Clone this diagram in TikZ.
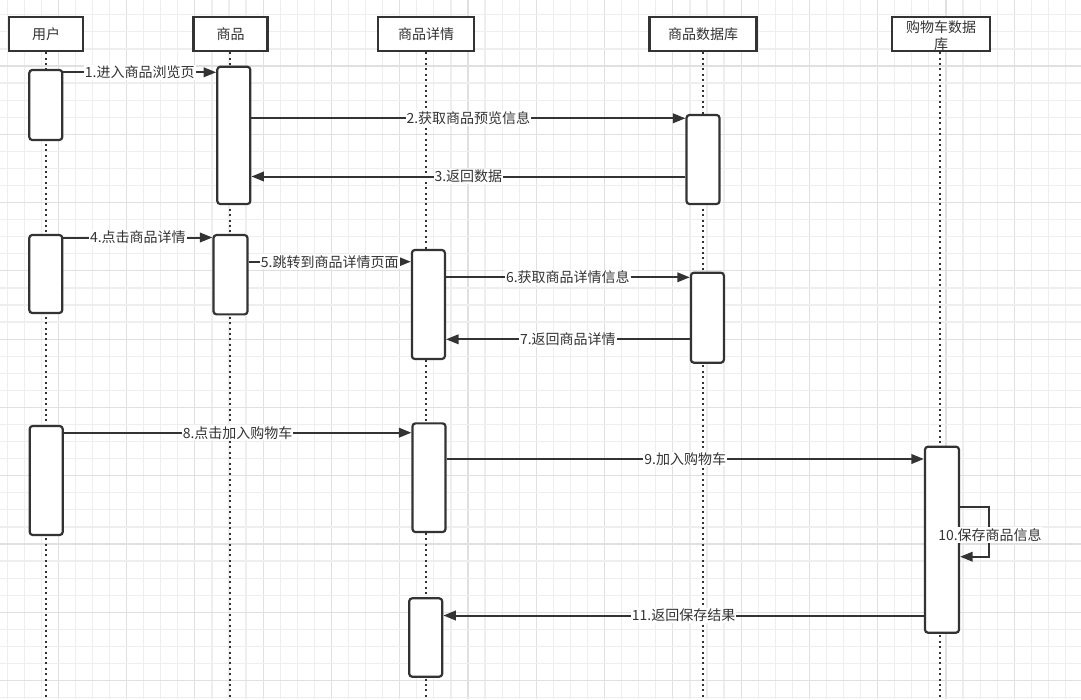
\documentclass[tikz,border=0pt]{standalone}
\usepackage{fontspec}
\setmainfont{Noto Sans CJK SC}
\usetikzlibrary{arrows.meta}
\definecolor{ink}{HTML}{333333}
\definecolor{gridminor}{HTML}{EEEEEE}
\definecolor{gridmajor}{HTML}{E0E0E0}
\tikzset{
  hdr/.style={draw=ink, line width=2.2pt, fill=white, inner sep=0pt, text=ink, font=\fontsize{14}{16}\selectfont},
  act/.style={draw=ink, line width=2.2pt, fill=white, rounded corners=3pt, minimum width=33pt, inner sep=0pt},
  life/.style={draw=ink, line width=2pt, dash pattern=on 2pt off 3.4pt},
  msg/.style={draw=ink, line width=2pt, -{Triangle[length=12.5pt,width=9.5pt]}},
  lbl/.style={fill=white, text=ink, inner sep=1pt, font=\fontsize{14}{16}\selectfont},
}
\begin{document}
\begin{tikzpicture}[x=1pt,y=-1pt]
\useasboundingbox (0,0) rectangle (1081,699);
\fill[white] (0,0) rectangle (1081,699);
% grid
\foreach \k in {0,...,62}{
  \pgfmathsetmacro{\gx}{7.1+17.07*\k}
  \pgfmathtruncatemacro{\m}{mod(\k,4)}
  \ifnum\m=3 \draw[gridmajor, line width=1.2pt] (\gx,0) -- (\gx,699);
  \else \draw[gridminor, line width=1.2pt] (\gx,0) -- (\gx,699); \fi
}
\foreach \k in {0,...,40}{
  \pgfmathsetmacro{\gy}{14.8+17.07*\k}
  \pgfmathtruncatemacro{\m}{mod(\k,4)}
  \ifnum\m=3 \draw[gridmajor, line width=1.2pt] (0,\gy) -- (1081,\gy);
  \else \draw[gridminor, line width=1.2pt] (0,\gy) -- (1081,\gy); \fi
}
% headers
\node[hdr, minimum width=74pt, minimum height=34pt] (h1) at (46,34) {用户};
\node[hdr, minimum width=74pt, minimum height=34pt] (h2) at (230.5,34) {商品};
\node[hdr, minimum width=96pt, minimum height=34pt] (h3) at (426.2,34) {商品详情};
\node[hdr, minimum width=107pt, minimum height=34pt] (h4) at (703,34) {商品数据库};
\node[hdr, minimum width=98pt, minimum height=34pt] (h5) at (941,34) {};
% lifeline ends
\coordinate (e1) at (46,699);
\coordinate (e2) at (230,699);
\coordinate (e3) at (426,699);
\coordinate (e4) at (702.7,699);
\coordinate (e5) at (940,699);
\draw[life] (h1.south -| e1) -- (e1);
\draw[life] (h2.south -| e2) -- (e2);
\draw[life] (h3.south -| e3) -- (e3);
\draw[life] (h4.south -| e4) -- (e4);
\draw[life] (h5.south -| e5) -- (e5);
\node[text=ink, font=\fontsize{14}{17.5}\selectfont, align=center, inner sep=0pt] (h5t) at (941,35.5) {购物车数据\\库};
% activations
\node[act, minimum height=70pt] (a1) at (45.8,105) {};
\node[act, minimum height=137.3pt] (a2) at (233.8,135.4) {};
\node[act, minimum height=89pt] (a3) at (703,159.5) {};
\node[act, minimum height=78pt] (a4) at (45.8,274) {};
\node[act, minimum height=79.3pt, minimum width=34pt] (a5) at (230.5,274.7) {};
\node[act, minimum height=109pt] (a6) at (428.4,304.5) {};
\node[act, minimum height=90pt] (a7) at (707.4,317.7) {};
\node[act, minimum height=109pt] (a8) at (46.2,480.5) {};
\node[act, minimum height=108.7pt] (a9) at (429,477.7) {};
\node[act, minimum height=186pt, minimum width=34pt] (a10) at (942,539.7) {};
\node[act, minimum height=78.4pt] (a11) at (425.7,637.5) {};
% messages
\draw[msg] (a1.east |- 0,72.3) -- node[lbl] (l1) {1.进入商品浏览页} (a2.west |- 0,72.3);
\draw[msg] (a2.east |- 0,118.3) -- node[lbl] (l2) {2.获取商品预览信息} (a3.west |- 0,118.3);
\draw[msg] (a3.west |- 0,176.5) -- node[lbl] (l3) {3.返回数据} (a2.east |- 0,176.5);
\draw[msg] (a4.east |- 0,237.5) -- node[lbl] (l4) {4.点击商品详情} (a5.west |- 0,237.5);
\draw[msg] (a5.east |- 0,261.7) -- node[lbl] (l5) {5.跳转到商品详情页面} (a6.west |- 0,261.7);
\draw[msg] (a6.east |- 0,277.3) -- node[lbl] (l6) {6.获取商品详情信息} (a7.west |- 0,277.3);
\draw[msg] (a7.west |- 0,339.3) -- node[lbl] (l7) {7.返回商品详情} (a6.east |- 0,339.3);
\draw[msg] (a8.east |- 0,432.7) -- node[lbl] (l8) {8.点击加入购物车} (a9.west |- 0,432.7);
\draw[msg] (a9.east |- 0,459) -- node[lbl] (l9) {9.加入购物车} (a10.west |- 0,459);
\coordinate (lp1) at (989.3,507.3);
\coordinate (lp2) at (989.3,556.7);
\draw[msg] (a10.east |- lp1) -- (lp1) -- (lp2) -- (a10.east |- lp2);
\node[lbl] (l10) at (990,535) {10.保存商品信息};
\draw[msg] (a10.west |- 0,615.5) -- node[lbl] (l11) {11.返回保存结果} (a11.east |- 0,615.5);
\end{tikzpicture}
\end{document}
